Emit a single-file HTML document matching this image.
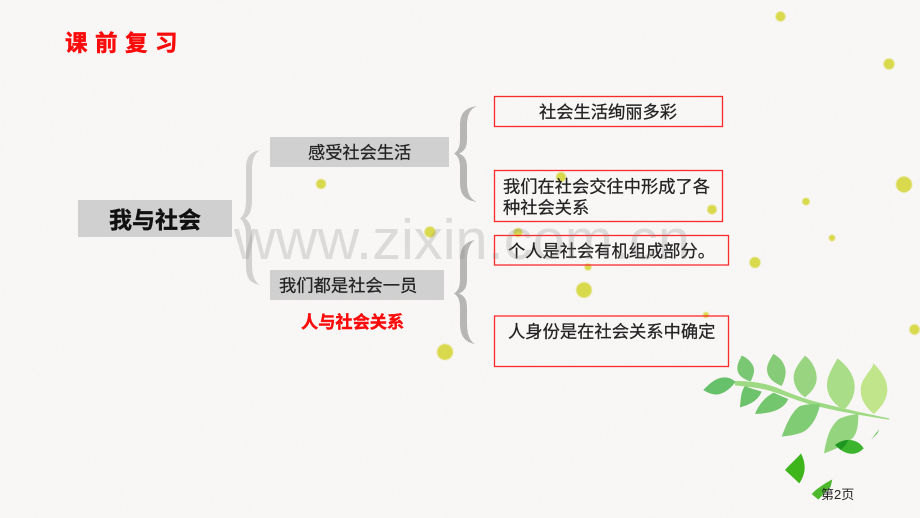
<!DOCTYPE html>
<html lang="zh">
<head>
<meta charset="utf-8">
<style>
html,body{margin:0;padding:0;width:920px;height:518px;overflow:hidden;background:#f9f7f6}
svg{display:block}
.z{font-family:"Liberation Sans","Noto Sans CJK SC",sans-serif}
.t{stroke:#222;stroke-width:.25}
</style>
</head>
<body>
<svg width="920" height="518" viewBox="0 0 920 518" xmlns="http://www.w3.org/2000/svg">
<defs>
<filter id="n" x="0" y="0" width="100%" height="100%">
<feTurbulence type="fractalNoise" baseFrequency="0.35" numOctaves="3" seed="4"/>
<feColorMatrix values="0 0 0 0 0.5 0 0 0 0 0.45 0 0 0 0 0.47 0.5 0 0 0 -0.2"/>
</filter>
<filter id="s" x="-20%" y="-20%" width="140%" height="140%"><feGaussianBlur stdDeviation=".5"/></filter>
</defs>
<rect width="920" height="518" fill="#f9f7f6"/>
<rect width="920" height="518" filter="url(#n)" opacity=".12"/>

<!-- dots -->
<g fill="#d9d94e" filter="url(#s)">
<circle cx="321" cy="184" r="5"/>
<circle cx="430" cy="232" r="5.5"/>
<circle cx="780.500" cy="16.500" r="5"/>
<circle cx="889" cy="64" r="5.500"/>
<circle cx="904" cy="184.500" r="8"/>
<circle cx="806" cy="201.500" r="3.800"/>
<circle cx="832" cy="238" r="3.200"/>
<circle cx="755" cy="262.500" r="5.500"/>
<circle cx="712" cy="209.500" r="4.800"/>
<circle cx="561" cy="177" r="5"/>
<circle cx="518" cy="232.500" r="4.500"/>
<circle cx="588" cy="267" r="3.500"/>
<circle cx="584" cy="290" r="7.800"/>
<circle cx="706" cy="315" r="3"/>
<circle cx="914.500" cy="329.500" r="5.200"/>
<circle cx="445" cy="352" r="8"/>
</g>

<!-- braces -->
<path fill="#d2d1d0" d="M260 150C249 152 246 158 246 170L246 200C246 210 244 215 240 218.500C244 222 246 227 246 237L246 265C246 277 249 283 260 285C255 282 252 276 252 265L252 237C252 227 250 222 245 218.500C250 215 252 210 252 200L252 170C252 159 255 153 260 150Z"/>
<path fill="#b6b6b5" d="M477 106C464 108 460 114 460 126L460 139C460 147 458 151 454 153.500C458 156 460 160 460 168L460 182C460 194 464 200 477 202C470 199 467 193 467 182L467 168C467 160 465 156 459 153.500C465 151 467 147 467 139L467 126C467 115 470 109 477 106Z"/>
<path fill="#b6b6b5" d="M475 240C464 242 460 249 460 261L460 279C460 287 458 291 454 293.500C458 296 460 300 460 308L460 323C460 335 464 342 475 344C470 341 467 335 467 323L467 308C467 300 465 296 459 293.500C465 291 467 287 467 279L467 261C467 250 470 243 475 240Z"/>

<!-- gray boxes -->
<rect x="78" y="200" width="154" height="37" fill="#d0d0d0"/>
<rect x="270" y="137" width="179" height="30" fill="#d0d0d0"/>
<rect x="270" y="270" width="174" height="30" fill="#d0d0d0"/>

<!-- red boxes -->
<g fill="none" stroke="#fa2a2a" stroke-width="1.300">
<rect x="494.500" y="96.500" width="228" height="30"/>
<rect x="494.500" y="170.500" width="228" height="51"/>
<rect x="494.500" y="235.500" width="234" height="29.500"/>
<rect x="494.500" y="316" width="234" height="50.500"/>
</g>

<!-- leaves -->
<g transform="translate(690 340) scale(.33333)">
<path fill="#9ed983" d="M135 123C180 123 222 128 260 143C300 160 330 172 370 183C430 198 520 220 598 235L597 239C520 227 430 212 360 193C310 178 270 160 230 150C200 142 165 140 135 136Z"/>
<path fill="#67c06a" d="M40 150C55 135 75 112 105 112C118 112 128 118 137 126C125 140 110 158 85 163C70 165 55 160 40 150Z"/>
<path fill="#79c772" d="M155 47C175 55 195 75 192 95C190 108 186 116 182 124C160 118 142 105 142 85C142 70 150 58 155 47Z"/>
<path fill="#86cc78" d="M250 42C272 52 288 75 287 98C286 115 280 128 275 138C250 128 231 112 231 88C231 70 243 55 250 42Z"/>
<path fill="#99d480" d="M345 47C365 62 380 88 380 115C380 140 360 160 345 172C325 158 311 138 311 112C311 88 330 65 345 47Z"/>
<path fill="#aadd88" d="M442 55C470 75 494 105 494 140C494 170 478 195 462 210C435 195 411 170 411 135C411 105 430 80 442 55Z"/>
<path fill="#c0e58a" d="M551 70C570 90 592 115 592 150C592 180 570 205 552 222C530 205 512 180 512 150C512 115 540 100 551 70Z"/>
<path fill="#6cc36b" d="M150 202C152 180 152 155 165 138C180 145 200 150 215 155C205 180 180 195 150 202Z"/>
<path fill="#73c66e" d="M195 222C205 195 225 172 250 158L295 177C285 200 260 220 195 222Z"/>
<path fill="#7fcc75" d="M275 290C290 250 305 215 330 198C350 192 370 192 390 192C385 225 365 265 335 278C315 285 295 288 275 290Z"/>
<path fill="#95d47e" d="M402 340C408 305 415 265 445 238C465 228 485 224 505 222C505 250 503 275 490 292C465 315 435 328 402 340Z"/>
<path fill="#3cb42e" d="M435 315C470 290 505 298 521 325C497 350 465 346 435 315Z"/>
<path fill="#1f9522" d="M435 315C450 304 462 300 475 300C470 312 462 322 452 329Z"/>
<path fill="#3fb51c" d="M285 390C300 372 318 358 333 340C345 365 352 395 328 430Z"/>
<path fill="#4cb92c" d="M365 462C380 445 405 430 427 418L422 440L385 479Z"/>
<path fill="#6ac85e" d="M543 299L568 267L562 281Z"/>
</g>

<!-- labels -->
<g class="z">
<text x="65" y="51" font-size="22.500" font-weight="700" fill="#fb0a0a" stroke="#fb0a0a" stroke-width=".5" letter-spacing="7.500">课前复习</text>
<text x="109" y="228" font-size="23" font-weight="700" fill="#111" stroke="#111" stroke-width=".4">我与社会</text>
<text class="t" x="308" y="158.700" font-size="17.200" fill="#222">感受社会生活</text>
<text class="t" x="279" y="291.700" font-size="17.300" fill="#222">我们都是社会一员</text>
<text x="301" y="328" font-size="17.200" font-weight="700" fill="#fb0a0a" stroke="#fb0a0a" stroke-width=".4">人与社会关系</text>
<text class="t" x="539" y="118" font-size="17.250" fill="#222">社会生活绚丽多彩</text>
<text class="t" x="503" y="192.700" font-size="17.250" fill="#222">我们在社会交往中形成了各</text>
<text class="t" x="503" y="213.700" font-size="17.250" fill="#222">种社会关系</text>
<text class="t" x="508" y="257" font-size="17.250" fill="#222">个人是社会有机组成部分。</text>
<text class="t" x="508" y="337.700" font-size="17.300" fill="#222">人身份是在社会关系中确定</text>
<text x="821" y="499" font-size="13" fill="#222">第2页</text>
</g>

<!-- watermark -->
<text x="234" y="259" font-family="'Liberation Sans',sans-serif" font-size="57" fill="#808080" fill-opacity=".24" textLength="456" lengthAdjust="spacingAndGlyphs">www.zixin.com.cn</text>
</svg>
</body>
</html>
